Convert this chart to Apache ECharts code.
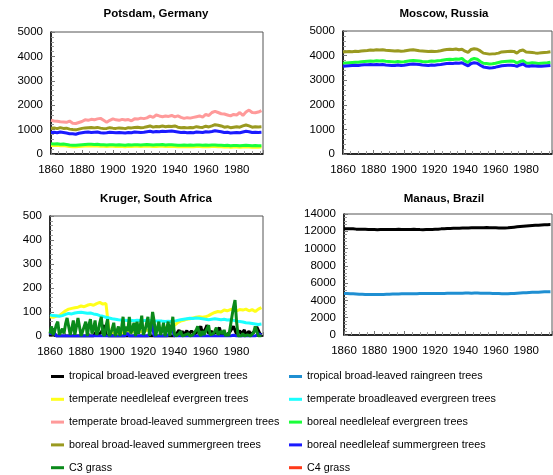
<!DOCTYPE html>
<html><head><meta charset="utf-8">
<script src="https://cdn.jsdelivr.net/npm/echarts@6/dist/echarts.min.js"></script>
<style>html,body{margin:0;padding:0;background:#fff}#c{width:553px;height:475px}</style>
</head><body><div id="c"></div>
<script>
// ---------- DATA ----------
const years2 = [1860,1862,1864,1866,1868,1870,1872,1874,1876,1878,
1880,1882,1884,1886,1888,1890,1892,1894,1896,1898,
1900,1902,1904,1906,1908,1910,1912,1914,1916,1918,
1920,1922,1924,1926,1928,1930,1932,1934,1936,1938,
1940,1942,1944,1946,1948,1950,1952,1954,1956,1958,
1960,1962,1964,1966,1968,1970,1972,1974,1976,1978,
1980,1982,1984,1986,1988,1990,1992,1994,1996];

const years1 = [1860,1861,1862,1863,1864,1865,1866,1867,1868,1869,
1870,1871,1872,1873,1874,1875,1876,1877,1878,1879,
1880,1881,1882,1883,1884,1885,1886,1887,1888,1889,
1890,1891,1892,1893,1894,1895,1896,1897,1898,1899,
1900,1901,1902,1903,1904,1905,1906,1907,1908,1909,
1910,1911,1912,1913,1914,1915,1916,1917,1918,1919,
1920,1921,1922,1923,1924,1925,1926,1927,1928,1929,
1930,1931,1932,1933,1934,1935,1936,1937,1938,1939,
1940,1941,1942,1943,1944,1945,1946,1947,1948,1949,
1950,1951,1952,1953,1954,1955,1956,1957,1958,1959,
1960,1961,1962,1963,1964,1965,1966,1967,1968,1969,
1970,1971,1972,1973,1974,1975,1976,1977,1978,1979,
1980,1981,1982,1983,1984,1985,1986,1987,1988,1989,
1990,1991,1992,1993,1994,1995,1996];

const panelTitles = ["Potsdam, Germany", "Moscow, Russia", "Kruger, South Africa", "Manaus, Brazil"];
const yMax = [5000, 5000, 500, 14000];
const yStep = [1000, 1000, 100, 2000];
const xTicks = [1860, 1880, 1900, 1920, 1940, 1960, 1980];

const pftNames = ["tropical broad-leaved evergreen trees","tropical broad-leaved raingreen trees",
 "temperate needleleaf evergreen trees","temperate broadleaved evergreen trees",
 "temperate broad-leaved summergreen trees","boreal needleleaf evergreen trees",
 "boreal broad-leaved summergreen trees","boreal needleleaf summergreen trees",
 "C3 grass","C4 grass"];
const pftColors = ["#000000","#1f8fd2","#ffff1a","#1affff","#ff9a9a","#1aff3a","#9a9a20","#1a1aff","#0a8a1a","#ff3a1a"];

// Potsdam
const potsdamTempNE = [350,345,355,340,345,330,310,300,300,310,
320,325,335,330,325,330,320,315,310,315,
315,310,315,310,300,315,310,315,315,305,
315,320,315,305,310,315,320,305,310,315,
305,300,300,305,300,305,300,305,305,300,
305,300,305,305,300,295,290,295,280,290,
290,280,290,295,290,280,290,280,285];
const potsdamTempBS = [1380,1350,1340,1320,1310,1300,1350,1260,1250,1290,
1330,1400,1380,1420,1400,1440,1460,1380,1300,1380,
1440,1400,1380,1420,1390,1410,1360,1440,1430,1470,
1450,1480,1550,1500,1600,1560,1530,1560,1540,1580,
1520,1560,1500,1460,1490,1470,1500,1530,1560,1510,
1620,1580,1700,1750,1700,1650,1640,1600,1560,1620,
1600,1700,1580,1720,1800,1700,1690,1720,1780];
const potsdamBorNE = [420,410,420,400,410,390,370,360,360,370,
380,390,400,400,390,400,380,380,370,380,
380,370,380,370,360,380,370,380,380,370,
380,390,380,370,380,380,390,370,380,380,
370,360,360,370,360,370,360,370,370,360,
370,360,370,370,360,360,350,360,340,350,
350,340,350,360,350,340,350,340,340];
const potsdamBorBS = [1060,1070,1040,1080,1050,1060,1020,1000,990,1020,
1050,1070,1080,1090,1070,1090,1060,1040,1050,1080,
1060,1050,1070,1060,1040,1080,1070,1090,1100,1080,
1090,1120,1150,1100,1130,1120,1150,1120,1140,1130,
1150,1100,1080,1090,1070,1090,1080,1120,1100,1090,
1140,1110,1150,1200,1180,1150,1100,1120,1080,1100,
1120,1100,1150,1190,1150,1100,1120,1110,1120];
const potsdamBorNS = [880,890,870,900,880,860,830,830,810,850,
870,890,900,880,890,900,870,860,870,890,
880,870,880,870,860,880,870,900,890,880,
890,910,930,900,920,910,930,920,930,940,
920,900,880,890,870,880,870,900,890,880,
910,900,920,950,930,910,880,890,860,870,
880,870,900,930,910,880,890,880,890];

// Moscow
const moscowBorNE = [3690,3700,3710,3720,3730,3730,3750,3760,3770,3780,
3770,3790,3780,3790,3770,3760,3750,3740,3760,3740,
3750,3770,3790,3800,3790,3780,3760,3750,3760,3780,
3770,3790,3800,3820,3840,3850,3840,3860,3850,3890,
3780,3720,3840,3880,3850,3760,3690,3680,3660,3670,
3690,3720,3750,3760,3770,3780,3770,3700,3760,3790,
3700,3690,3710,3700,3680,3690,3700,3710,3730];
const moscowBorBS = [4150,4160,4170,4160,4180,4170,4190,4200,4210,4230,
4220,4240,4230,4240,4220,4210,4200,4190,4200,4180,
4190,4210,4230,4240,4220,4200,4190,4180,4170,4180,
4170,4180,4200,4230,4250,4260,4250,4270,4240,4260,
4180,4130,4250,4280,4260,4190,4100,4080,4060,4070,
4080,4100,4150,4160,4170,4180,4170,4100,4200,4230,
4150,4140,4130,4110,4100,4120,4130,4140,4160];
const moscowBorNS = [3570,3580,3590,3600,3610,3600,3620,3630,3630,3640,
3630,3640,3630,3640,3620,3610,3600,3600,3620,3600,
3610,3630,3650,3660,3650,3640,3620,3610,3600,3620,
3610,3630,3640,3660,3680,3690,3680,3700,3690,3710,
3640,3580,3680,3710,3690,3610,3540,3520,3500,3510,
3530,3560,3590,3600,3610,3610,3600,3560,3620,3660,
3580,3570,3590,3580,3570,3570,3580,3590,3600];

// Kruger
const krugerTropBE = [0,15,30,10,0,0,0,0,0,0,
0,0,0,0,0,0,0,0,0,0,
0,0,0,0,0,0,0,0,0,10,
20,5,0,15,30,45,5,0,0,0,
0,0,0,0,0,0,0,0,0,0,
0,0,0,0,0,0,0,0,0,0,
0,0,0,0,0,0,0,0,0,0,
0,0,0,0,0,0,0,0,0,0,
0,5,15,25,8,20,5,10,22,8,
12,20,28,8,10,20,30,40,10,15,
30,45,10,15,20,10,8,15,25,35,
8,5,10,15,5,10,20,30,40,45,
8,10,22,8,15,25,5,10,20,8,
10,15,25,38,45,10,5];
const krugerTempNE = [80,78,82,85,95,105,112,115,118,120,
125,122,128,132,128,135,140,133,135,20,
15,12,10,12,15,18,15,20,22,18,
20,25,22,25,28,30,32,35,38,40,
45,55,62,65,70,72,75,78,80,78,
80,85,92,98,102,100,108,105,110,112,
105,110,108,112,105,110,102,112,118];
const krugerTempBE = [88,85,84,82,85,90,94,92,96,98,
99,97,95,96,92,90,85,82,78,75,
72,70,68,67,66,65,66,64,66,65,
64,66,65,64,62,63,62,60,61,60,
62,65,68,70,72,74,73,75,74,72,
70,68,70,72,70,68,70,67,68,65,
62,60,58,55,54,52,50,48,50];
const krugerBorNS = [5,20,25,10,0,0,0,0,0,0,
0,0,0,0,0,0,0,0,0,0,
0,0,0,0,0,0,0,0,0,0,
0,0,0,0,0,0,0,0,0,0,
0,0,0,0,0,0,0,0,0,5,
12,0,0,0,0,0,0,0,0,0,
0,0,0,0,10,50,40,0,0,0,
0,0,0,0,0,0,0,10,45,40,
0,0,0,0,0,0,0,0,0,0,
0,0,0,0,0,0,0,0,0,0,
0,0,0,0,0,0,0,0,0,0,
0,0,0,0,0,0,0,0,3,5,
0,0,0,0,0,0,0,0,0,0,
0,0,0,0,8,15,5];
const krugerC3 = [10,40,5,20,45,60,5,0,30,10,
50,75,80,5,30,65,5,40,75,70,
0,20,40,60,0,45,70,10,30,65,
5,20,55,80,10,0,40,70,0,10,
30,55,0,5,40,0,30,80,5,40,
20,80,10,30,55,0,60,10,40,85,
5,20,50,80,0,40,100,60,0,30,
60,5,20,55,0,25,60,0,30,80,
10,0,0,10,20,0,0,5,0,10,
0,0,5,10,25,40,10,0,20,5,
0,30,45,5,0,10,20,35,5,0,
20,10,25,0,10,0,40,80,120,150,
60,0,5,0,10,0,0,5,0,0,
5,15,40,35,0,0,0];
const krugerC4 = [];

// Manaus
const manausTropBE = [12300,12300,12290,12280,12250,12250,12240,12230,12220,12200,
12200,12190,12200,12210,12200,12200,12210,12220,12230,12220,
12210,12200,12220,12230,12220,12200,12190,12200,12210,12220,
12230,12240,12280,12300,12320,12330,12340,12350,12360,12370,
12380,12390,12400,12410,12410,12420,12420,12430,12420,12410,
12400,12390,12390,12380,12400,12440,12480,12520,12560,12590,
12620,12650,12670,12690,12710,12730,12750,12770,12780];
const manausTropBR = [4800,4790,4780,4760,4740,4720,4710,4700,4690,4690,
4680,4690,4700,4700,4710,4720,4730,4740,4750,4760,
4760,4770,4770,4780,4780,4790,4790,4800,4800,4810,
4810,4800,4800,4810,4820,4820,4830,4830,4840,4840,
4850,4850,4840,4850,4850,4840,4830,4830,4820,4810,
4800,4790,4780,4770,4770,4790,4810,4840,4860,4880,
4900,4920,4940,4950,4960,4980,4990,5000,5010];

// ---------- CHART ----------
const FONT = "'Liberation Sans', Arial, Helvetica, sans-serif";
const grids = [
  {left: 51, top: 32, width: 212, height: 122},
  {left: 343, top: 31, width: 209, height: 123},
  {left: 50, top: 216, width: 213, height: 120},
  {left: 344, top: 214, width: 208, height: 121}
];
const titleCenters = [[156, 8], [444, 8], [156, 193], [444, 193]];

// panel -> list of [pft index, years, values]
const panels = [
  [[2, years2, potsdamTempNE],[4, years2, potsdamTempBS],[5, years2, potsdamBorNE],[6, years2, potsdamBorBS],[7, years2, potsdamBorNS]],
  [[5, years2, moscowBorNE],[6, years2, moscowBorBS],[7, years2, moscowBorNS]],
  [[0, years1, krugerTropBE],[2, years2, krugerTempNE],[3, years2, krugerTempBE],[7, years1, krugerBorNS],[8, years1, krugerC3],[9, years1, krugerC4]],
  [[0, years2, manausTropBE],[1, years2, manausTropBR]]
];

const option = {
  animation: false,
  backgroundColor: '#fff',
  textStyle: {fontFamily: FONT},
  title: panelTitles.map((t, i) => ({
    text: t, left: titleCenters[i][0], top: titleCenters[i][1], textAlign: 'center', padding: 0,
    textStyle: {fontSize: 11.5, fontWeight: 'bold', color: '#000', fontFamily: FONT}
  })),
  grid: grids.map(g => Object.assign({show: true, borderColor: '#555', borderWidth: 1, containLabel: false}, g)),
  xAxis: grids.map((g, i) => ({
    type: 'value', gridIndex: i, min: 1860, max: 1997, interval: 20,
    axisLine: {show: true, onZero: false, lineStyle: {color: '#000', width: 1.5}},
    axisTick: {show: true, inside: true, length: 4, lineStyle: {color: '#777'}},
    minorTick: {show: true, splitNumber: 4, length: 3, lineStyle: {color: '#999'}},
    splitLine: {show: false},
    axisLabel: {fontSize: 11.5, color: '#000', margin: 10, fontFamily: FONT, showMaxLabel: false,
      formatter: v => xTicks.indexOf(v) >= 0 ? String(v) : ''}
  })),
  yAxis: grids.map((g, i) => ({
    type: 'value', gridIndex: i, min: 0, max: yMax[i], interval: yStep[i],
    axisLine: {show: true, onZero: false, lineStyle: {color: '#000', width: 1.5}},
    axisTick: {show: true, inside: true, length: 4, lineStyle: {color: '#777'}},
    minorTick: {show: true, splitNumber: 5, length: 3, lineStyle: {color: '#999'}},
    splitLine: {show: false},
    axisLabel: {fontSize: 11.5, color: '#000', margin: 8, fontFamily: FONT, formatter: v => String(v)}
  })),
  legend: [
    {data: [0,2,4,6,8].map(k => pftNames[k]), left: 51, top: 370},
    {data: [1,3,5,7,9].map(k => pftNames[k]), left: 289, top: 370}
  ].map(l => Object.assign({
    orient: 'vertical', icon: 'rect', itemWidth: 13, itemHeight: 3, itemGap: 9.8,
    selectedMode: false, padding: 0,
    textStyle: {fontSize: 10.75, color: '#000', fontFamily: FONT, lineHeight: 13}
  }, l)),
  series: []
};

panels.forEach((list, pi) => {
  list.forEach(([k, yrs, vals]) => {
    option.series.push({
      type: 'line', name: pftNames[k], xAxisIndex: pi, yAxisIndex: pi,
      data: vals.map((v, j) => [yrs[j], v]),
      showSymbol: false, symbol: 'none',
      itemStyle: {color: pftColors[k]},
      lineStyle: {color: pftColors[k], width: 3},
      clip: true, z: 2
    });
  });
});

const chart = echarts.init(document.getElementById('c'), null, {renderer: 'canvas'});
chart.setOption(option);
</script>
</body></html>
